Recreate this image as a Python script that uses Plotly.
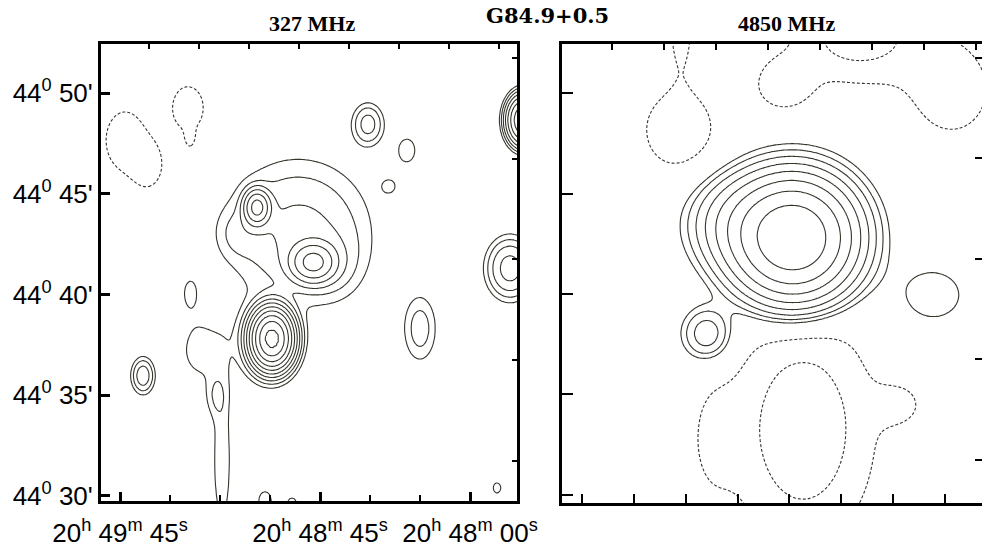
import numpy as np
import plotly.graph_objects as go

# Coordinates: RA offset in seconds of time from 20h48m00s, Dec in arcmin above +44 deg.

# ---- 327 MHz components (ra_s, dec_arcmin, peak, sigma_ra_s, sigma_dec_arcmin) ----
S327_RA = [59.4, 63.9, 47.1, 51.6, 41.0, 70.0, 62.0, 74.4, 81.0, 76.5, 61.5, 53.4, 98.1,
           30.6, 18.9, 24.3, -16.2, -12.0, 15.0, 84.0, -8.1,
           103.5, 96.6, 84.6, 84.0]
S327_DEC = [37.81, 44.33, 41.59, 43.29, 41.5, 43.0, 37.5, 31.8, 37.22, 34.98, 29.75, 29.6, 35.97,
            48.46, 47.17, 45.38, 48.66, 41.30, 38.31, 40.05, 30.40,
            47.66, 46.42, 49.26, 47.76]
S327_PEAK = [120, 15, 14, 3.2, 1.2, 1.0, 1.3, 1.5, 1.5, 1.2, 1.5, 1.3, 4.0,
             3.5, 1.3, 1.2, 40, 6.0, 2.2, 1.1, 1.2,
             -2.0, -1.8, -2.0, -1.3]
S327_SRA = [3.2, 2.25, 3.9, 14.0, 6.0, 4.0, 8.5, 2.4, 4.2, 2.4, 2.0, 1.8, 2.2,
            3.0, 3.0, 1.8, 2.7, 4.2, 3.6, 2.7, 1.8,
            4.8, 3.6, 3.9, 1.2]
S327_SDEC = [0.74, 0.5, 0.57, 2.24, 1.2, 0.8, 1.6, 3.0, 1.0, 0.75, 0.5, 0.4, 0.57,
             0.66, 0.7, 0.3, 0.65, 0.9, 1.2, 0.9, 0.4,
             1.19, 0.9, 0.9, 0.4]

# ---- 4850 MHz components ----
S4850_RA = [43.95, 60.3, 68.9, 3.84,
            76.9, 76.3, 25.3, -1.9, 46.8, 41.1, 67.7, 12.4]
S4850_DEC = [42.79, 43.58, 38.01, 39.95,
             48.16, 53.14, 53.0, 50.15, 50.40, 33.24, 32.74, 34.5]
S4850_PEAK = [60, 5.0, 4.0, 1.5,
              -1.8, -1.3, -2.7, -1.6, -1.7, -2.9, -0.9, -1.0]
S4850_SRA = [9.74, 8.6, 4.58, 8.6,
             8.6, 3.44, 12.9, 10.0, 6.3, 14.3, 5.2, 5.7]
S4850_SDEC = [1.64, 1.39, 0.85, 1.24,
              1.64, 1.74, 1.74, 2.0, 1.0, 4.0, 2.24, 0.9]

# Contour levels (relative to the lowest positive contour)
LEVELS_POS = [1.0, 1.68, 2.81, 4.71, 7.9, 13.3, 22.2, 37.3, 62.5, 104.9]
LEVELS_NEG_327 = [-1.0]
LEVELS_NEG_4850 = [-2.0, -1.0]

# Axis ticks
RA_MAJOR = [105, 45, 0]
RA_MAJOR_TEXT = ["20<sup>h</sup> 49<sup>m</sup> 45<sup>s</sup>",
                 "20<sup>h</sup> 48<sup>m</sup> 45<sup>s</sup>",
                 "20<sup>h</sup> 48<sup>m</sup> 00<sup>s</sup>"]
RA_MINOR = [105, 90, 75, 60, 45, 30, 15, 0]
RA_TOP = [96.2, 81.2, 66.2, 51.2, 36.2, 21.2, 6.2, -8.8]
DEC_MAJOR = [30, 35, 40, 45, 50]
DEC_MAJOR_TEXT = ["44<sup>0</sup> 30'", "44<sup>0</sup> 35'", "44<sup>0</sup> 40'",
                  "44<sup>0</sup> 45'", "44<sup>0</sup> 50'"]
DEC_RIGHT = [51.75, 46.75, 41.75, 36.75, 31.75]

LEFT_RA_RANGE = [110.7, -14.1]
RIGHT_RA_RANGE = [110.7, -10.6]
LEFT_DEC_RANGE = [29.75, 52.44]
RIGHT_DEC_RANGE = [29.6, 52.44]

LINE = "#35352c"
FONT = "Liberation Sans"


def brightness(ra, dec, ras, decs, peaks, sras, sdecs):
    R, D = np.meshgrid(ra, dec)
    f = np.zeros_like(R)
    for r0, d0, a, sr, sd in zip(ras, decs, peaks, sras, sdecs):
        f += a * np.exp(-0.5 * ((R - r0) / sr) ** 2 - 0.5 * ((D - d0) / sd) ** 2)
    return f


def level_index(field, levels):
    # map field values onto level indices so integer contours fall on the listed levels
    lv = np.sort(np.asarray(levels, dtype=float))
    n = len(lv)
    xp = np.concatenate([[lv[0] - 1e4], lv, [lv[-1] + 1e4]])
    fp = np.concatenate([[-1e4], np.arange(n, dtype=float), [n - 1 + 1e4]])
    return np.interp(field, xp, fp), n


def contour_traces(ra, dec, field, xa, ya, neg_levels):
    out = []
    zp, n = level_index(field, LEVELS_POS)
    out.append(go.Contour(
        x=ra, y=dec, z=zp.astype(np.float32), xaxis=xa, yaxis=ya,
        contours=dict(start=0, end=n - 1, size=1, coloring="none"),
        line=dict(color=LINE, width=1.1, smoothing=1.0),
        showscale=False, hoverinfo="skip"))
    zn, m = level_index(field, neg_levels)
    out.append(go.Contour(
        x=ra, y=dec, z=zn.astype(np.float32), xaxis=xa, yaxis=ya,
        contours=dict(start=0, end=m - 1, size=1, coloring="none"),
        line=dict(color=LINE, width=1.1, dash="3px,2px", smoothing=1.0),
        showscale=False, hoverinfo="skip"))
    return out


ra_l = np.linspace(-16, 112, 330)
dec_l = np.linspace(29.4, 52.8, 330)
f327 = brightness(ra_l, dec_l, S327_RA, S327_DEC, S327_PEAK, S327_SRA, S327_SDEC)

ra_r = np.linspace(-12, 112, 330)
dec_r = np.linspace(29.3, 52.8, 330)
f4850 = brightness(ra_r, dec_r, S4850_RA, S4850_DEC, S4850_PEAK, S4850_SRA, S4850_SDEC)

fig = go.Figure()
for t in contour_traces(ra_l, dec_l, f327, "x", "y", LEVELS_NEG_327):
    fig.add_trace(t)
for t in contour_traces(ra_r, dec_r, f4850, "x2", "y2", LEVELS_NEG_4850):
    fig.add_trace(t)
# empty traces that carry the top/right tick axes
fig.add_trace(go.Scatter(x=[], y=[], xaxis="x3", yaxis="y3", showlegend=False))
fig.add_trace(go.Scatter(x=[], y=[], xaxis="x4", yaxis="y4", showlegend=False))

W, H = 982, 554
LX = [101 / W, 517 / W]
RX = [562 / W, 1.0]
LY = [(H - 501) / H, (H - 44) / H]
RY = [(H - 503) / H, (H - 44) / H]

common = dict(showgrid=False, zeroline=False, linecolor="black", tickcolor="black",
              automargin=False)

fig.update_layout(
    width=W, height=H, margin=dict(l=0, r=0, t=0, b=0, autoexpand=False),
    paper_bgcolor="white", plot_bgcolor="white", showlegend=False,
    font=dict(family=FONT, size=26, color="black"),
    xaxis=dict(domain=LX, range=LEFT_RA_RANGE, anchor="y", showline=True, linewidth=3,
               mirror=True, ticks="inside", tickmode="array", tickvals=RA_MAJOR,
               ticktext=RA_MAJOR_TEXT, ticklen=9, tickwidth=3, ticklabelstandoff=7,
               minor=dict(tickmode="array", tickvals=RA_MINOR, ticks="inside",
                          ticklen=6, tickwidth=1.5, tickcolor="black"),
               tickfont=dict(family=FONT, size=26), **common),
    yaxis=dict(domain=LY, range=LEFT_DEC_RANGE, anchor="x", showline=True, linewidth=3,
               mirror=True, ticks="inside", tickmode="array", tickvals=DEC_MAJOR,
               ticktext=DEC_MAJOR_TEXT, ticklen=9, tickwidth=3,
               tickfont=dict(family=FONT, size=26), **common),
    xaxis3=dict(overlaying="x", side="top", anchor="y", range=LEFT_RA_RANGE,
                tickmode="array", tickvals=RA_TOP, ticks="inside", ticklen=5,
                tickwidth=1.5, showticklabels=False, showline=False, **common),
    yaxis3=dict(overlaying="y", side="right", anchor="x", range=LEFT_DEC_RANGE,
                tickmode="array", tickvals=DEC_RIGHT, ticks="inside", ticklen=5,
                tickwidth=1.5, showticklabels=False, showline=False, **common),
    xaxis2=dict(domain=RX, range=RIGHT_RA_RANGE, anchor="y2", showline=True, linewidth=3,
                mirror=True, ticks="inside", tickmode="array", tickvals=RA_MINOR,
                ticklen=9, tickwidth=1.5, showticklabels=False, **common),
    yaxis2=dict(domain=RY, range=RIGHT_DEC_RANGE, anchor="x2", showline=True, linewidth=3,
                mirror=False, ticks="inside", tickmode="array", tickvals=DEC_MAJOR,
                ticklen=11, tickwidth=1.5, showticklabels=False, **common),
    xaxis4=dict(overlaying="x2", side="top", anchor="y2", range=RIGHT_RA_RANGE,
                tickmode="array", tickvals=RA_TOP, ticks="inside", ticklen=6,
                tickwidth=1.5, showticklabels=False, showline=False, **common),
    yaxis4=dict(overlaying="y2", side="right", anchor="x2", range=RIGHT_DEC_RANGE,
                tickmode="array", tickvals=DEC_RIGHT, ticks="inside", ticklen=7,
                tickwidth=1.5, showticklabels=False, showline=False, **common),
)

titles = [("<b>327 MHz</b>", 312, 23, "Liberation Serif", 22),
          ("<b>G84.9+0.5</b>", 547, 16, "DejaVu Serif", 21),
          ("<b>4850 MHz</b>", 786, 23, "Liberation Serif", 22)]
for txt, px, py, fam, sz in titles:
    fig.add_annotation(text=txt, x=px / W, y=1 - py / H, xref="paper", yref="paper",
                       xanchor="center", yanchor="middle", showarrow=False,
                       font=dict(family=fam, size=sz, color="black"))

fig.write_html("out.html")
